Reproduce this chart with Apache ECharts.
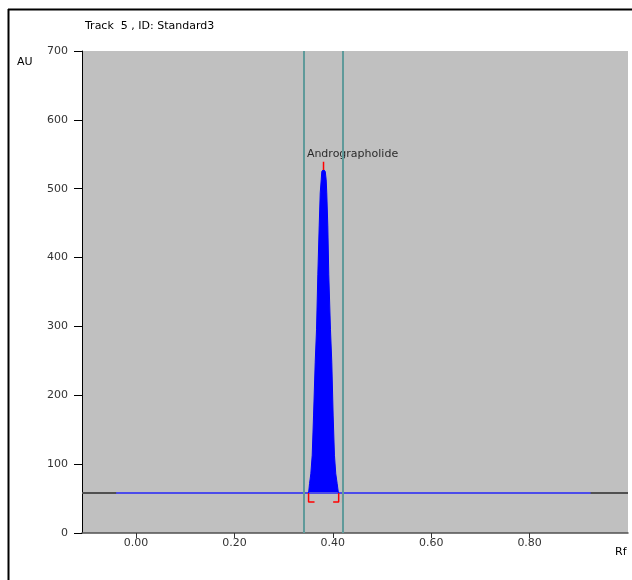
<!DOCTYPE html>
<html>
<head>
<meta charset="utf-8">
<script src="https://cdn.jsdelivr.net/npm/echarts@6/dist/echarts.min.js"></script>
<style>
  html, body { margin: 0; padding: 0; background: #fff; }
  #chart { width: 632px; height: 580px; }
</style>
</head>
<body>
<div id="chart"></div>
<script>
// densitogram, track 5 (Standard3)
const peakRf = [0.3506, 0.3526, 0.3552, 0.3580, 0.3607, 0.3641, 0.3668, 0.3694, 0.3722, 0.3743, 0.3763, 0.3775, 0.3810,
                0.3845, 0.3864, 0.3876, 0.3897, 0.3917, 0.3951, 0.3978, 0.4006, 0.4032, 0.4059, 0.4087, 0.4113];
const peakAU = [58, 72, 86, 113, 170, 248, 296, 375, 446, 494, 513, 525, 528,
                525, 513, 494, 446, 375, 296, 248, 170, 113, 86, 72, 58];
const baselineAU = 58;
const baselineRange = [-0.0405, 0.924];
const windowRf = [0.341, 0.4174];     // integration window lines
const peakName = 'Andrographolide';
const apexRf = 0.381;
const apexTick = [527, 539];
const leftBracket = [[0.3506, 58], [0.3506, 45], [0.3627, 45]];
const rightBracket = [[0.4006, 45], [0.4118, 45], [0.4118, 58]];
const endTick = [[0.4200, 58], [0.4200, 44]];
const xTicks = [0, 0.2, 0.4, 0.6, 0.8];

const font = 'DejaVu Sans';
const chart = echarts.init(document.getElementById('chart'));

const option = {
    animation: false,
    title: {
        text: 'Track  5 , ID: Standard3',
        left: 80,
        top: 16,
        textStyle: { fontFamily: font, fontSize: 11, fontWeight: 'normal', color: '#000' }
    },
    graphic: [
        { type: 'line', shape: { x1: 8.5, y1: 9, x2: 8.5, y2: 580 }, style: { stroke: '#000', lineWidth: 2 } },
        { type: 'line', shape: { x1: 8, y1: 9.5, x2: 632, y2: 9.5 }, style: { stroke: '#000', lineWidth: 2 } },
        { type: 'text', left: 17, top: 57, style: { text: 'AU', font: '11px ' + font, fill: '#000' } },
        { type: 'text', left: 615, top: 547, style: { text: 'Rf', font: '11px ' + font, fill: '#000' } }
    ],
    grid: {
        left: 82,
        top: 51,
        width: 546,
        height: 482,
        show: true,
        backgroundColor: '#c0c0c0',
        borderWidth: 0
    },
    xAxis: {
        type: 'value',
        min: -0.11,
        max: 1.0,
        splitLine: { show: false },
        axisLine: { onZero: false, lineStyle: { color: '#505050', width: 1.5 } },
        axisTick: { customValues: xTicks, length: 5, lineStyle: { color: '#333' } },
        axisLabel: {
            customValues: xTicks,
            margin: 5,
            fontFamily: font,
            fontSize: 11,
            color: '#333',
            formatter: v => v.toFixed(2)
        }
    },
    yAxis: {
        type: 'value',
        min: 0,
        max: 700,
        interval: 100,
        splitLine: { show: false },
        axisLine: { show: true, onZero: false, lineStyle: { color: '#000', width: 1 } },
        axisTick: { length: 8, lineStyle: { color: '#000' } },
        axisLabel: { margin: 14, fontFamily: font, fontSize: 11, color: '#333' }
    },
    series: [
        {
            type: 'line',
            data: [[-0.11, baselineAU], [1.0, baselineAU]],
            symbol: 'none',
            lineStyle: { color: '#505050', width: 2 },
            silent: true
        },
        {
            type: 'line',
            data: baselineRange.map(x => [x, baselineAU]),
            symbol: 'none',
            lineStyle: { color: '#4b4bea', width: 2 },
            silent: true
        },
        {
            type: 'line',
            data: peakRf.map((x, i) => [x, peakAU[i]]),
            symbol: 'none',
            lineStyle: { color: '#0000ff', width: 1 },
            areaStyle: { color: '#0000ff', opacity: 1, origin: baselineAU },
            markLine: {
                silent: true,
                symbol: 'none',
                label: { show: false },
                lineStyle: { color: '#5f9a9a', width: 2, type: 'solid' },
                data: windowRf.map(x => ({ xAxis: x }))
            }
        },
        {
            type: 'line',
            data: apexTick.map(v => [apexRf, v]),
            symbol: 'none',
            lineStyle: { color: '#ff0000', width: 1.5 }
        },
        {
            type: 'line',
            data: leftBracket,
            symbol: 'none',
            lineStyle: { color: '#ff0000', width: 1.5 }
        },
        {
            type: 'line',
            data: rightBracket,
            symbol: 'none',
            lineStyle: { color: '#ff0000', width: 1.5 }
        },
        {
            type: 'line',
            data: endTick,
            symbol: 'none',
            lineStyle: { color: '#ff0000', width: 1.5 }
        },
        {
            type: 'scatter',
            data: [[apexRf, apexTick[1]]],
            symbolSize: 0,
            label: {
                show: true,
                position: 'top',
                offset: [29, 3],
                formatter: peakName,
                fontFamily: font,
                fontSize: 11,
                color: '#000'
            }
        }
    ]
};

chart.setOption(option);
</script>
</body>
</html>
